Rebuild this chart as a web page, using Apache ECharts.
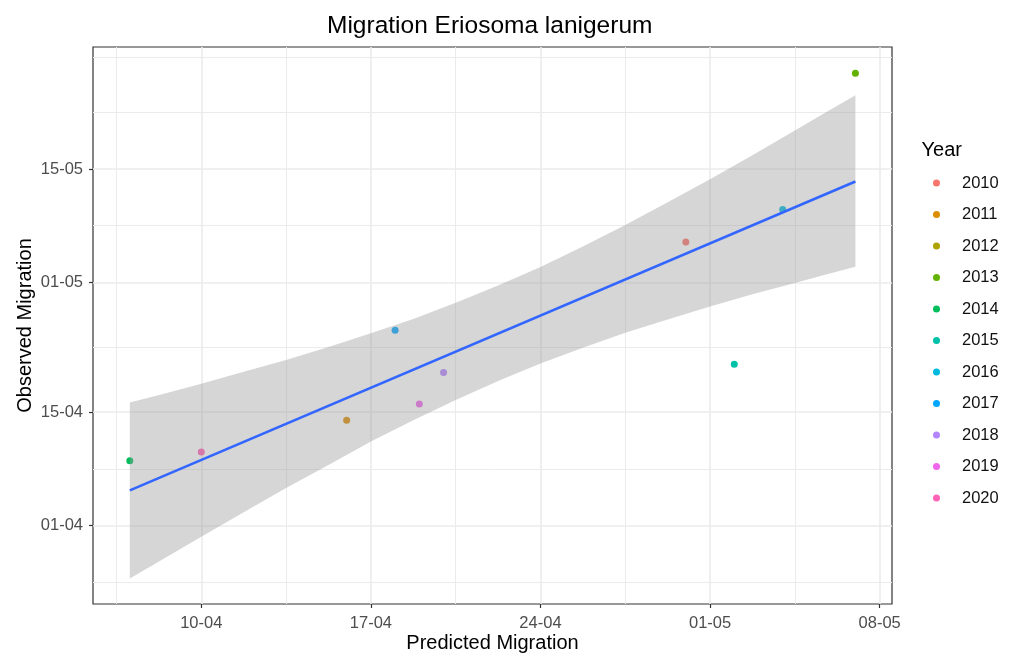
<!DOCTYPE html>
<html>
<head>
<meta charset="utf-8">
<script src="https://cdn.jsdelivr.net/npm/echarts@6/dist/echarts.min.js"></script>
<style>html,body{margin:0;padding:0;background:#fff;}#chart{width:1012px;height:653px;}</style>
</head>
<body>
<div id="chart"></div>
<script>
// Day numbers: 1 = 1 April, 31 = 1 May
const years = ['2010','2011','2012','2013','2014','2015','2016','2017','2018','2019','2020'];
const yearColors = ['#F8766D','#DB8E00','#AEA200','#64B200','#00BD5C','#00C1A7','#00BADE','#00A6FF','#B385FF','#EF67EB','#FF63B6'];
// predicted (x) and observed (y) per year; null = no point
const predicted = [30.0, 16.0, null, 37.0, 7.05, 32.0, 34.0, 18.0, 20.0, 19.0, 10.0];
const observed  = [36.0, 14.0, null, 56.8, 9.0, 20.9, 40.0, 25.1, 19.9, 16.0, 10.1];
// fitted line end points
const fitX = [7.05, 37.0];
const fitY = [5.35, 43.45];
// confidence band
const bandX     = [7.05, 8.5, 10, 11.75, 13.5, 15.25, 17, 18.75, 20.5, 22.3, 24, 25.75, 27.5, 29.25, 31, 32.75, 34.5, 35.75, 37];
const bandUpper = [16.2, 17.3, 18.5, 20.0, 21.45, 23.05, 24.75, 26.5, 28.5, 30.7, 32.9, 35.45, 38.1, 40.9, 43.75, 46.7, 49.75, 51.95, 54.1];
const bandLower = [-5.5, -3.0, -0.35, 2.65, 5.65, 8.5, 11.4, 14.0, 16.5, 18.9, 21.0, 22.95, 24.8, 26.45, 28.05, 29.55, 30.95, 31.95, 32.95];
// axis ticks
const xTickValues = [10, 17, 24, 31, 38];
const xTickLabels = ['10-04','17-04','24-04','01-05','08-05'];
const xMinorValues = [6.5, 13.5, 20.5, 27.5, 34.5];
const yTickValues = [1, 15, 31, 45];
const yTickLabels = ['01-04','15-04','01-05','15-05'];
const yMinorValues = [-6, 8, 23, 38, 52, 58.8];

const FONT = '"Liberation Sans", Arial, sans-serif';
const chart = echarts.init(document.getElementById('chart'), null, {renderer: 'canvas'});

const gridLineData = [];
xTickValues.forEach(v => gridLineData.push({xAxis: v, lineStyle: {width: 1.6}}));
xMinorValues.forEach(v => gridLineData.push({xAxis: v, lineStyle: {width: 1}}));
yTickValues.forEach(v => gridLineData.push({yAxis: v, lineStyle: {width: 1.6}}));
yMinorValues.forEach(v => gridLineData.push({yAxis: v, lineStyle: {width: 1}}));

const series = [];
series.push({
  type: 'scatter', name: '_grid', data: [], z: 1, silent: true,
  markLine: {
    silent: true, symbol: ['none','none'], z: 1, animation: false,
    label: {show: false},
    lineStyle: {color: '#EBEBEB', type: 'solid'},
    emphasis: {disabled: true},
    data: gridLineData
  }
});
years.forEach((yr, i) => {
  series.push({
    type: 'scatter', name: yr, z: 10,
    symbol: 'circle', symbolSize: 7,
    itemStyle: {color: yearColors[i], opacity: 1},
    data: predicted[i] === null ? [] : [[predicted[i], observed[i]]]
  });
});
series.push({
  type: 'custom', name: '_band', z: 11, silent: true,
  data: [[bandX[0], bandUpper[0]]],
  renderItem: function (params, api) {
    const pts = [];
    for (let i = 0; i < bandX.length; i++) pts.push(api.coord([bandX[i], bandUpper[i]]));
    for (let i = bandX.length - 1; i >= 0; i--) pts.push(api.coord([bandX[i], bandLower[i]]));
    return {type: 'polygon', shape: {points: pts}, style: {fill: 'rgba(153,153,153,0.4)'}};
  }
});
series.push({
  type: 'line', name: '_fit', z: 12, silent: true,
  symbol: 'none',
  lineStyle: {color: '#3366FF', width: 2.6},
  data: fitX.map((x, i) => [x, fitY[i]])
});

chart.setOption({
  animation: false,
  backgroundColor: '#ffffff',
  textStyle: {fontFamily: FONT},
  title: [
    {text: 'Migration Eriosoma lanigerum', left: 327, top: 14, padding: 0,
     textStyle: {fontFamily: FONT, fontSize: 24.5, fontWeight: 'normal', color: '#000'}},
    {text: 'Year', left: 921.5, top: 140, padding: 0,
     textStyle: {fontFamily: FONT, fontSize: 20, fontWeight: 'normal', color: '#000'}}
  ],
  legend: {
    data: years, orient: 'vertical', left: 933, top: 174, padding: 0,
    icon: 'circle', itemWidth: 7, itemHeight: 7, itemGap: 13.5,
    selectedMode: false,
    textStyle: {fontFamily: FONT, fontSize: 16.5, color: '#111', lineHeight: 18, padding: [0,0,0,17]}
  },
  grid: {left: 93, right: 120, top: 47, bottom: 49, show: true, outerBoundsMode: 'none',
         backgroundColor: '#fff', borderColor: '#333333', borderWidth: 1.2},
  xAxis: {
    type: 'value', min: 5.53, max: 38.51,
    name: 'Predicted Migration', nameLocation: 'middle', nameGap: 29, nameMoveOverlap: false,
    nameTextStyle: {fontFamily: FONT, fontSize: 20, color: '#000'},
    axisLine: {show: false, onZero: false},
    splitLine: {show: false},
    axisTick: {show: true, length: 4, customValues: xTickValues, lineStyle: {color: '#333333', width: 1.2}},
    axisLabel: {customValues: xTickValues, margin: 11, fontFamily: FONT, fontSize: 16.5, color: '#4D4D4D',
      formatter: v => { const k = xTickValues.indexOf(v); return k >= 0 ? xTickLabels[k] : ''; }}
  },
  yAxis: {
    type: 'value', min: -8.66, max: 60.05,
    name: 'Observed Migration', nameLocation: 'middle', nameGap: 58, nameMoveOverlap: false,
    nameTextStyle: {fontFamily: FONT, fontSize: 20, color: '#000'},
    axisLine: {show: false, onZero: false},
    splitLine: {show: false},
    axisTick: {show: true, length: 4, customValues: yTickValues, lineStyle: {color: '#333333', width: 1.2}},
    axisLabel: {customValues: yTickValues, margin: 10, fontFamily: FONT, fontSize: 16.5, color: '#4D4D4D',
      formatter: v => { const k = yTickValues.indexOf(v); return k >= 0 ? yTickLabels[k] : ''; }}
  },
  series: series
});
</script>
</body>
</html>
